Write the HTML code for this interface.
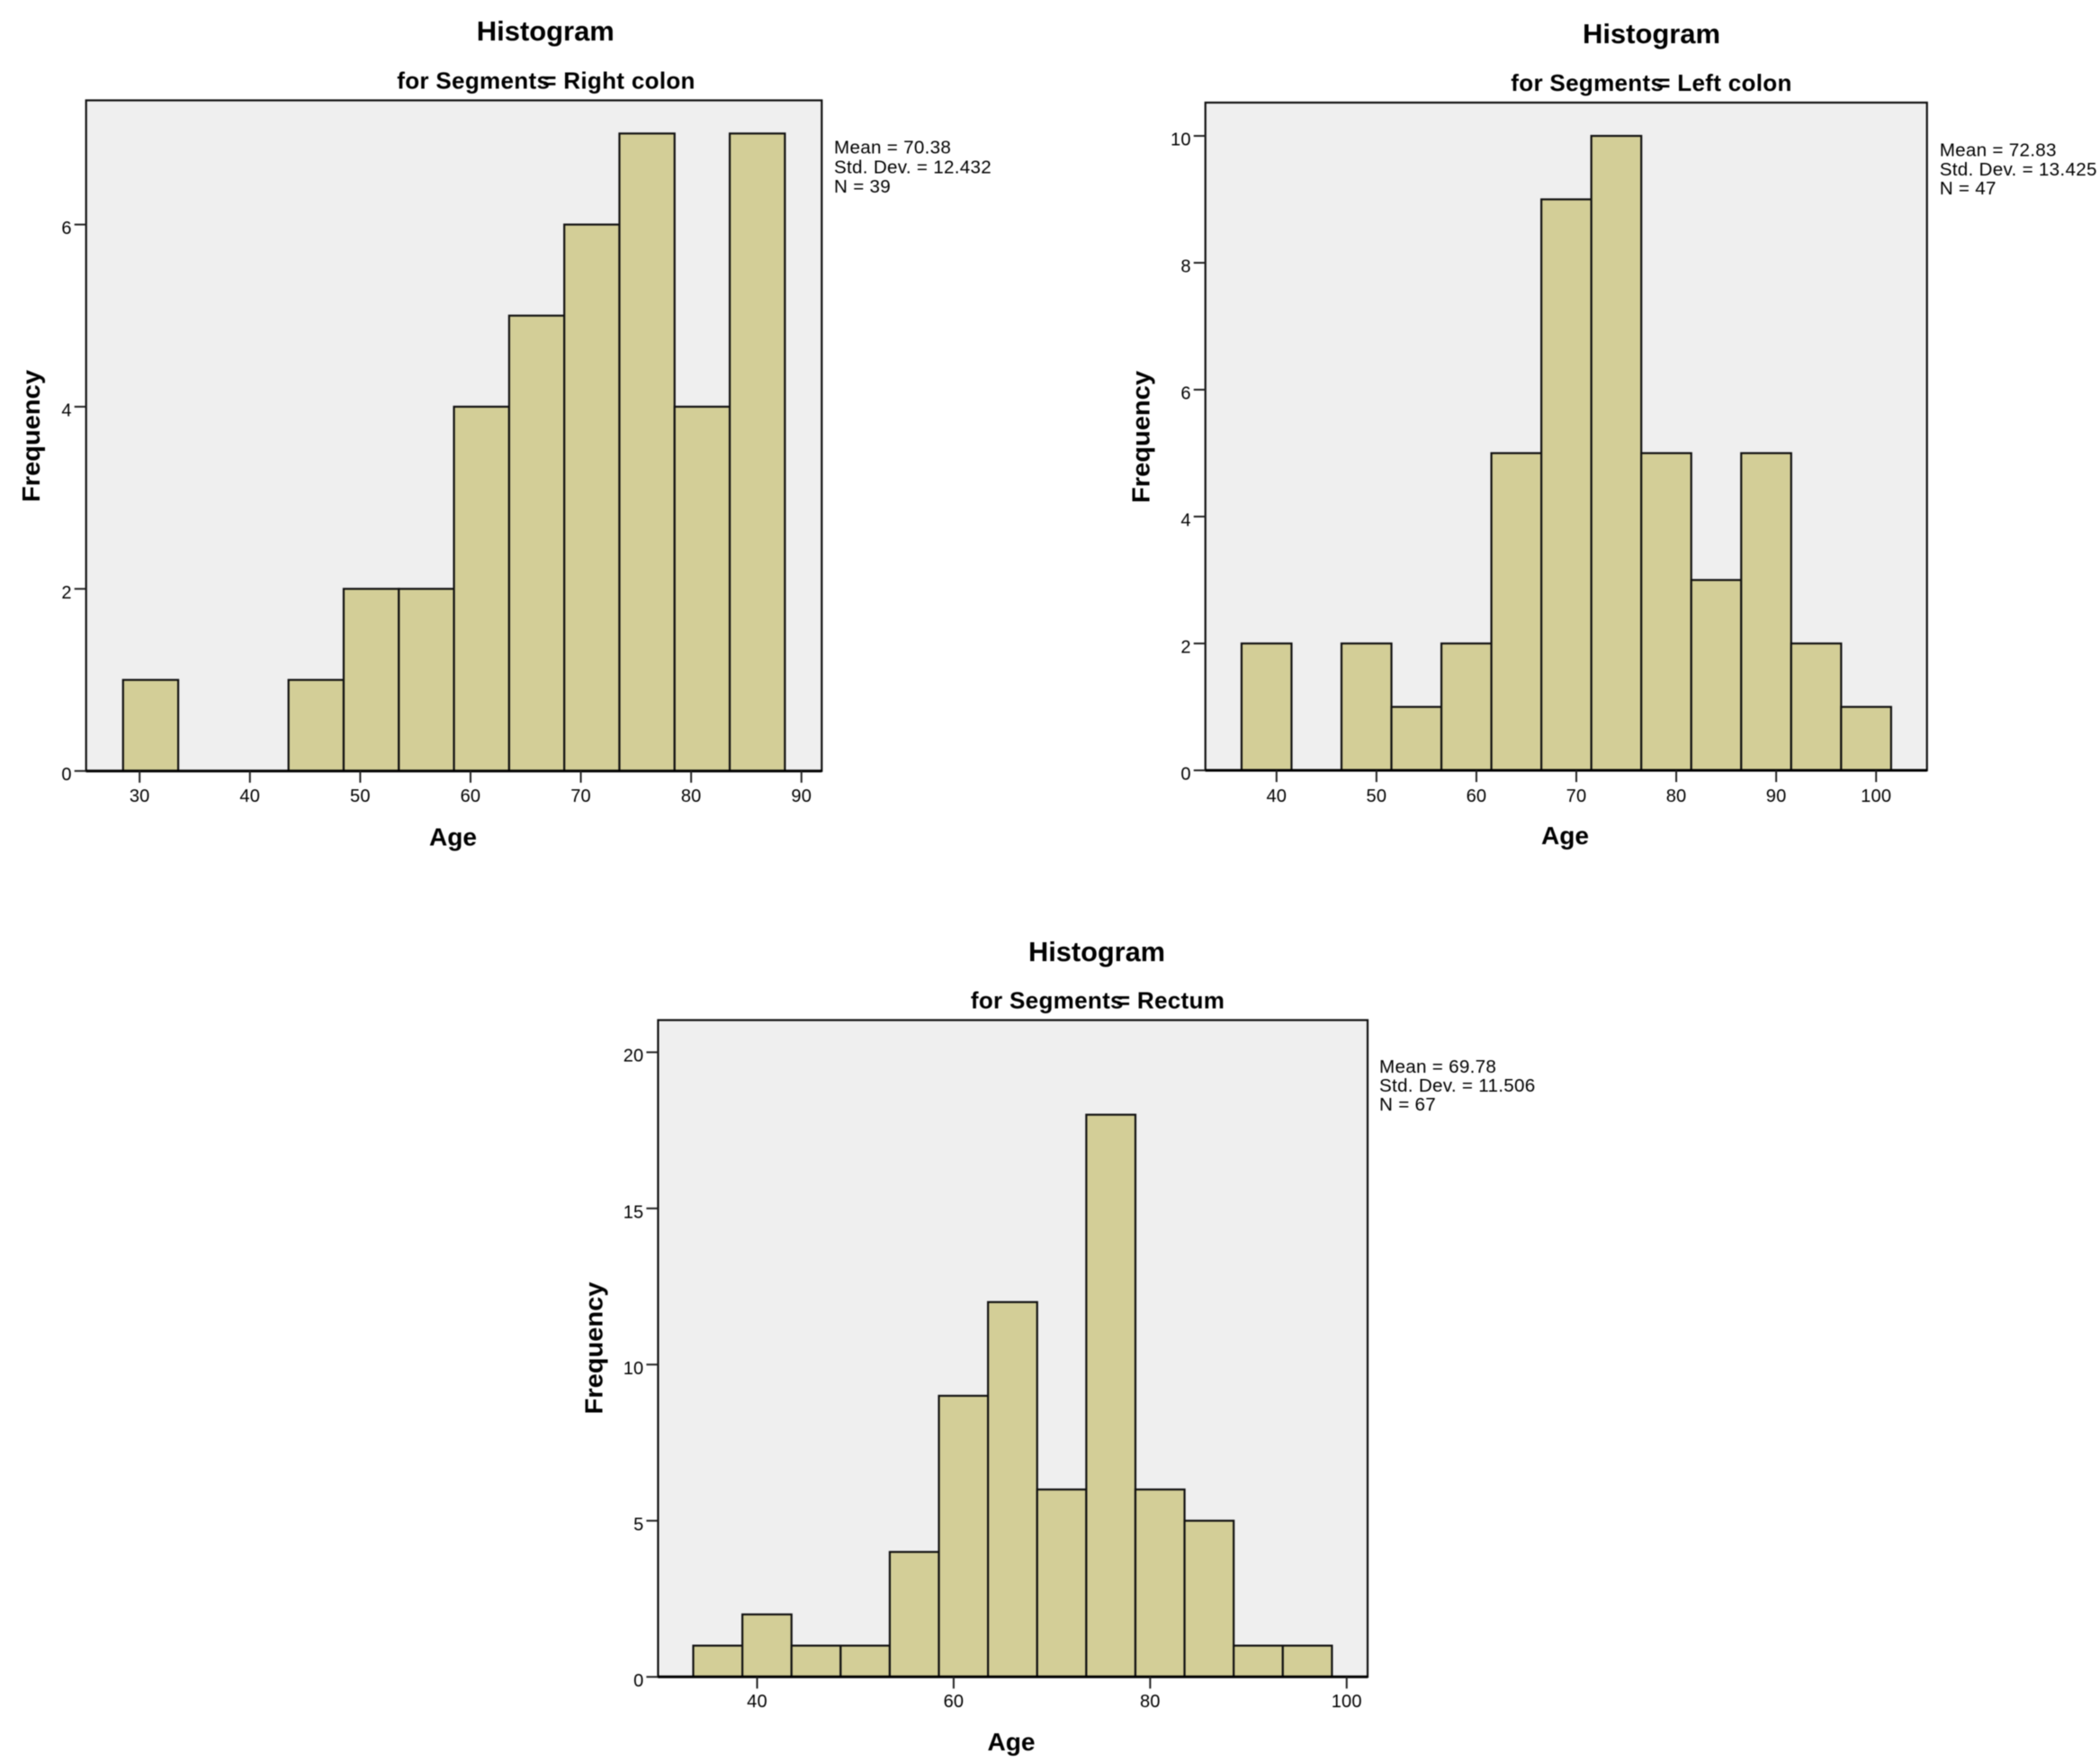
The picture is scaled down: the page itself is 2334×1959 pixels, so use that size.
<!DOCTYPE html>
<html lang="en">
<head>
<meta charset="utf-8">
<title>Histograms of Age by Segment</title>
<style>
  html, body { margin: 0; padding: 0; background: #fff; }
  svg { display: block; font-family: "Liberation Sans", Arial, sans-serif; filter: blur(0.45px); }
  .title { font-size: 31px; font-weight: 700; text-anchor: middle; fill: #000; }
  .subtitle { font-size: 26px; font-weight: 700; text-anchor: middle; fill: #000; letter-spacing: 0.32px; }
  .stat { font-size: 20.6px; letter-spacing: 0.3px; fill: #000; }
  .tick { font-size: 20px; letter-spacing: 0.2px; fill: #000; }
  .axis-title { font-size: 28px; font-weight: 700; text-anchor: middle; fill: #000; }
</style>
</head>
<body>
<svg id="figure" xmlns="http://www.w3.org/2000/svg" width="2334" height="1959" viewBox="0 0 2334 1959">
  <rect x="0" y="0" width="2334" height="1959" fill="#ffffff"/>

  <g id="chart-right">
    <text class="title" x="606.3" y="45" textLength="153" lengthAdjust="spacingAndGlyphs">Histogram</text>
    <text class="subtitle" x="607" y="98.7">for Segments<tspan dx="-8">= Right colon</tspan></text>
    <text class="stat" x="927" y="170.7">Mean = 70.38</text>
    <text class="stat" x="927" y="192.5">Std. Dev. = 12.432</text>
    <text class="stat" x="927" y="214">N = 39</text>
    <text class="axis-title" x="503.5" y="939.5" textLength="53" lengthAdjust="spacingAndGlyphs">Age</text>
    <text class="axis-title" transform="translate(44 484.5) rotate(-90)" x="0" y="0" textLength="147" lengthAdjust="spacingAndGlyphs">Frequency</text>
  </g>

  <g id="chart-left">
    <text class="title" x="1835.5" y="48" textLength="153" lengthAdjust="spacingAndGlyphs">Histogram</text>
    <text class="subtitle" x="1835.5" y="101">for Segments<tspan dx="-8">= Left colon</tspan></text>
    <text class="stat" x="2155.7" y="173.3">Mean = 72.83</text>
    <text class="stat" x="2155.7" y="195">Std. Dev. = 13.425</text>
    <text class="stat" x="2155.7" y="216">N = 47</text>
    <text class="axis-title" x="1739.5" y="938" textLength="53" lengthAdjust="spacingAndGlyphs">Age</text>
    <text class="axis-title" transform="translate(1277.5 485.5) rotate(-90)" x="0" y="0" textLength="147" lengthAdjust="spacingAndGlyphs">Frequency</text>
  </g>

  <g id="chart-rectum">
    <text class="title" x="1219" y="1068" textLength="152" lengthAdjust="spacingAndGlyphs">Histogram</text>
    <text class="subtitle" x="1220" y="1120.5">for Segments<tspan dx="-8">= Rectum</tspan></text>
    <text class="stat" x="1533" y="1192">Mean = 69.78</text>
    <text class="stat" x="1533" y="1213">Std. Dev. = 11.506</text>
    <text class="stat" x="1533" y="1234">N = 67</text>
    <text class="axis-title" x="1124" y="1945" textLength="53" lengthAdjust="spacingAndGlyphs">Age</text>
    <text class="axis-title" transform="translate(669.5 1498) rotate(-90)" x="0" y="0" textLength="147" lengthAdjust="spacingAndGlyphs">Frequency</text>
  </g>
</svg>

<script>
// Chart data.
const binWidth = 5;

const rightBinStarts = [28.5, 33.5, 38.5, 43.5, 48.5, 53.5, 58.5, 63.5, 68.5, 73.5, 78.5, 83.5];
const rightCounts = [1, 0, 0, 1, 2, 2, 4, 5, 6, 7, 4, 7];
const rightXTicks = [30, 40, 50, 60, 70, 80, 90];
const rightYTicks = [0, 2, 4, 6];

const leftBinStarts = [36.5, 41.5, 46.5, 51.5, 56.5, 61.5, 66.5, 71.5, 76.5, 81.5, 86.5, 91.5, 96.5];
const leftCounts = [2, 0, 2, 1, 2, 5, 9, 10, 5, 3, 5, 2, 1];
const leftXTicks = [40, 50, 60, 70, 80, 90, 100];
const leftYTicks = [0, 2, 4, 6, 8, 10];

const rectumBinStarts = [33.5, 38.5, 43.5, 48.5, 53.5, 58.5, 63.5, 68.5, 73.5, 78.5, 83.5, 88.5, 93.5];
const rectumCounts = [1, 2, 1, 1, 4, 9, 12, 6, 18, 6, 5, 1, 1];
const rectumXTicks = [40, 60, 80, 100];
const rectumYTicks = [0, 5, 10, 15, 20];

const SVG_NS = 'http://www.w3.org/2000/svg';

function svgEl(tag, attrs) {
  const el = document.createElementNS(SVG_NS, tag);
  for (const key in attrs) el.setAttribute(key, attrs[key]);
  return el;
}

function drawHistogram(cfg) {
  const parent = document.getElementById(cfg.groupId);
  const box = cfg.box;
  const xScale = v => box.left + (v - cfg.xDomain[0]) / (cfg.xDomain[1] - cfg.xDomain[0]) * (box.right - box.left);
  const yScale = v => box.bottom - (v - cfg.yDomain[0]) / (cfg.yDomain[1] - cfg.yDomain[0]) * (box.bottom - box.top);
  const layer = svgEl('g', {});
  
  
  parent.insertBefore(layer, parent.firstChild);

  const bg = svgEl('rect', { x: box.left, y: box.top, width: box.right - box.left, height: box.bottom - box.top, fill: '#efefef' });
  
  
  layer.appendChild(bg);

  cfg.binStarts.forEach((start, i) => {
    const top = yScale(cfg.counts[i]);
    const bar = svgEl('rect', {
      x: xScale(start), y: top,
      width: xScale(start + cfg.binWidth) - xScale(start),
      height: Math.max(0, box.bottom - top),
      fill: '#d3ce97', stroke: '#111111', 'stroke-width': 2.2
    });
    
    
    layer.appendChild(bar);
  });

  const frame = svgEl('rect', { x: box.left, y: box.top, width: box.right - box.left, height: box.bottom - box.top, fill: 'none', stroke: '#111111', 'stroke-width': 2.2 });
  
  
  layer.appendChild(frame);

  const baseline = svgEl('line', { x1: box.left, x2: box.right, y1: box.bottom, y2: box.bottom, stroke: '#000000', 'stroke-width': 3 });
  
  
  layer.appendChild(baseline);

  cfg.xTicks.forEach(t => {
    const x = xScale(t);
    const mark = svgEl('line', { x1: x, x2: x, y1: box.bottom, y2: box.bottom + 13, stroke: '#222222', 'stroke-width': 2 });
    
    
    layer.appendChild(mark);
    const label = svgEl('text', { x: x, y: cfg.xLabelY, 'text-anchor': 'middle', class: 'tick' });
    
    
    label.textContent = t;
    layer.appendChild(label);
  });

  cfg.yTicks.forEach(t => {
    const y = yScale(t);
    const mark = svgEl('line', { x1: box.left - 13, x2: box.left, y1: y, y2: y, stroke: '#222222', 'stroke-width': 2 });
    
    
    layer.appendChild(mark);
    const label = svgEl('text', { x: box.left - 16, y: y + 10.5, 'text-anchor': 'end', class: 'tick' });
    
    
    label.textContent = t;
    layer.appendChild(label);
  });
}

drawHistogram({
  groupId: 'chart-right',
  box: { left: 95.7, right: 913.3, top: 111.5, bottom: 856.7 },
  xDomain: [25.15, 91.84], yDomain: [0, 7.364],
  binStarts: rightBinStarts, counts: rightCounts, binWidth: binWidth,
  xTicks: rightXTicks, yTicks: rightYTicks, xLabelY: 891
});
drawHistogram({
  groupId: 'chart-left',
  box: { left: 1339.7, right: 2141.7, top: 114, bottom: 856 },
  xDomain: [32.88, 105.09], yDomain: [0, 10.525],
  binStarts: leftBinStarts, counts: leftCounts, binWidth: binWidth,
  xTicks: leftXTicks, yTicks: leftYTicks, xLabelY: 891
});
drawHistogram({
  groupId: 'chart-rectum',
  box: { left: 731.4, right: 1520, top: 1133.5, bottom: 1863.3 },
  xDomain: [29.92, 102.13], yDomain: [0, 21.03],
  binStarts: rectumBinStarts, counts: rectumCounts, binWidth: binWidth,
  xTicks: rectumXTicks, yTicks: rectumYTicks, xLabelY: 1897
});
</script>
</body>
</html>
